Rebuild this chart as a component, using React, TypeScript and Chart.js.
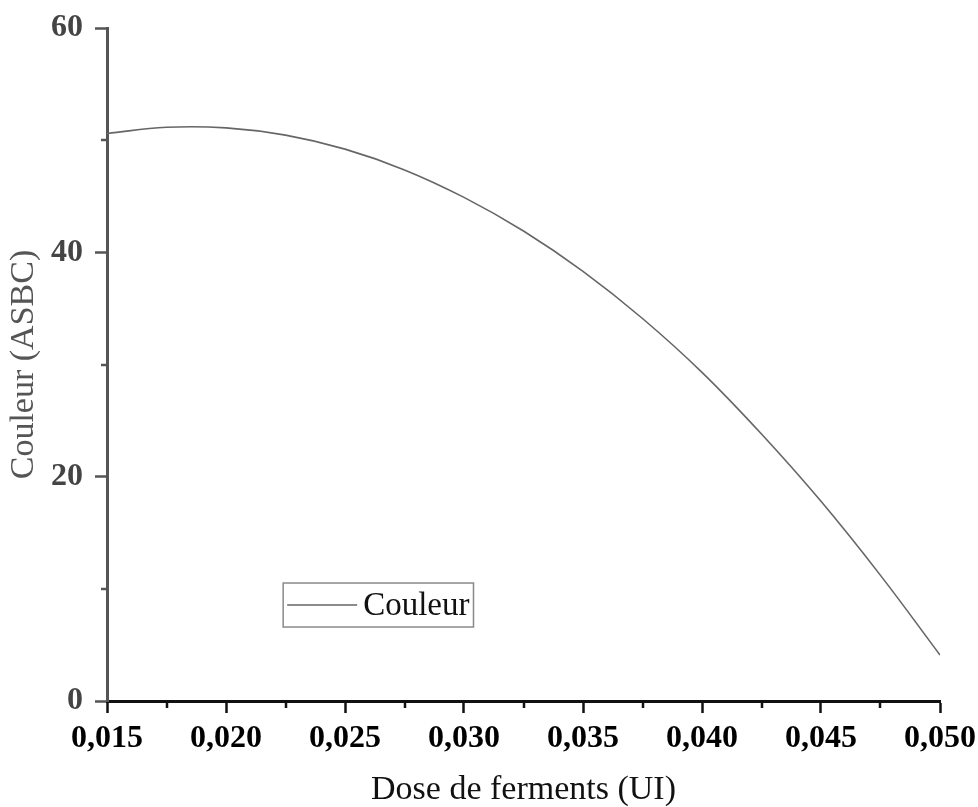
import React, { useEffect, useRef } from "react";
import { Chart, registerables } from "chart.js";

Chart.register(...registerables);

// Dose de ferments (UI) and the fitted colour response (ASBC)
const doses = [0.015, 0.0175, 0.02, 0.0225, 0.025, 0.0275, 0.03, 0.0325, 0.035, 0.0375, 0.04, 0.0425, 0.045, 0.0475, 0.05];
const couleur = [50.6, 51.15, 51.1, 50.45, 49.2, 47.35, 44.9, 41.9, 38.3, 34.1, 29.3, 23.8, 17.8, 11.2, 4.1];

const xMajorTicks = [0.015, 0.02, 0.025, 0.03, 0.035, 0.04, 0.045, 0.05];
const xMinorTicks = [0.0175, 0.0225, 0.0275, 0.0325, 0.0375, 0.0425, 0.0475];
const yMajorTicks = [0, 20, 40, 60];
const yMinorTicks = [10, 30, 50];

const seriesLabel = "Couleur";
const xTitle = "Dose de ferments (UI)";
const yTitle = "Couleur (ASBC)";

const SERIF = '"Liberation Serif", "Times New Roman", serif';

const minorTicksPlugin = {
  id: "minorTicks",
  afterDraw(chart: any) {
    const { ctx, chartArea, scales } = chart;
    ctx.save();
    ctx.lineWidth = 2.5;
    ctx.strokeStyle = "#111";
    xMinorTicks.forEach((v) => {
      const px = Math.round(scales.x.getPixelForValue(v));
      ctx.beginPath();
      ctx.moveTo(px, chartArea.bottom);
      ctx.lineTo(px, chartArea.bottom + 7);
      ctx.stroke();
    });
    ctx.strokeStyle = "#555";
    yMinorTicks.forEach((v) => {
      const py = Math.round(scales.y.getPixelForValue(v));
      ctx.beginPath();
      ctx.moveTo(chartArea.left, py);
      ctx.lineTo(chartArea.left - 6, py);
      ctx.stroke();
    });
    ctx.restore();
  },
};

const boxLegendPlugin = {
  id: "boxLegend",
  afterDraw(chart: any) {
    const { ctx, chartArea } = chart;
    const w = chartArea.right - chartArea.left;
    const h = chartArea.bottom - chartArea.top;
    const left = chartArea.left + w * 0.2115;
    const top = chartArea.top + h * 0.8247;
    const label = chart.data.datasets[0].label;
    ctx.save();
    ctx.font = `33px ${SERIF}`;
    const tw = ctx.measureText(label).width;
    const sample = 70;
    const boxW = 4 + sample + 6 + tw + 4;
    const boxH = 44;
    ctx.strokeStyle = "#8a8a8a";
    ctx.lineWidth = 1.5;
    ctx.strokeRect(left, top, boxW, boxH);
    ctx.strokeStyle = "#666";
    ctx.lineWidth = 1.5;
    ctx.beginPath();
    ctx.moveTo(left + 4, top + boxH / 2);
    ctx.lineTo(left + 4 + sample, top + boxH / 2);
    ctx.stroke();
    ctx.fillStyle = "#111";
    ctx.textBaseline = "middle";
    ctx.textAlign = "left";
    ctx.fillText(label, left + 4 + sample + 6, top + boxH / 2 + 1);
    ctx.restore();
  },
};

export default function App() {
  const canvasRef = useRef<HTMLCanvasElement | null>(null);

  useEffect(() => {
    if (!canvasRef.current) return;
    const chart = new Chart(canvasRef.current, {
      type: "line",
      data: {
        datasets: [
          {
            label: seriesLabel,
            data: doses.map((d, i) => ({ x: d, y: couleur[i] })),
            borderColor: "#666",
            borderWidth: 1.6,
            pointRadius: 0,
            tension: 0.4,
            fill: false,
          },
        ],
      },
      options: {
        animation: false,
        responsive: false,
        layout: { padding: { top: 28, right: 38, left: 0, bottom: 0 } },
        plugins: {
          legend: { display: false },
          tooltip: { enabled: false },
        },
        scales: {
          x: {
            type: "linear",
            min: 0.015,
            max: 0.05,
            afterBuildTicks: (scale: any) => {
              scale.ticks = xMajorTicks.map((v) => ({ value: v }));
            },
            afterFit: (scale: any) => {
              scale.height = 106;
              scale.paddingLeft = 0;
              scale.paddingRight = 0;
            },
            border: { display: true, color: "#111", width: 3 },
            grid: {
              display: true,
              drawOnChartArea: false,
              drawTicks: true,
              tickLength: 12,
              tickWidth: 2.5,
              tickColor: "#111",
            },
            ticks: {
              autoSkip: false,
              maxRotation: 0,
              padding: 7,
              color: "#000",
              font: { family: SERIF, size: 32, weight: "bold" },
              callback: (v: any) => Number(v).toFixed(3).replace(".", ","),
            },
            title: {
              display: true,
              text: xTitle,
              color: "#111",
              font: { family: SERIF, size: 34, lineHeight: 1 },
              padding: { top: 0, bottom: 0 },
            },
          },
          y: {
            type: "linear",
            min: 0,
            max: 60,
            afterBuildTicks: (scale: any) => {
              scale.ticks = yMajorTicks.map((v) => ({ value: v }));
            },
            afterFit: (scale: any) => {
              scale.width = 107;
              scale.paddingTop = 0;
              scale.paddingBottom = 0;
            },
            border: { display: true, color: "#555", width: 3 },
            grid: {
              display: true,
              drawOnChartArea: false,
              drawTicks: true,
              tickLength: 12,
              tickWidth: 2.5,
              tickColor: "#555",
            },
            ticks: {
              padding: 12,
              color: "#444",
              font: { family: SERIF, size: 32, weight: "bold" },
              callback: (v: any) => String(v),
            },
            title: {
              display: true,
              text: yTitle,
              color: "#555",
              font: { family: SERIF, size: 34, lineHeight: 1 },
              padding: { top: 7, bottom: 0 },
            },
          },
        },
      },
      plugins: [minorTicksPlugin, boxLegendPlugin],
    });
    return () => chart.destroy();
  }, []);

  return (
    <div style={{ position: "absolute", left: 0, top: 0, width: 978, height: 807, background: "#fff" }}>
      <canvas ref={canvasRef} width={978} height={807} style={{ display: "block", width: 978, height: 807 }} />
    </div>
  );
}
